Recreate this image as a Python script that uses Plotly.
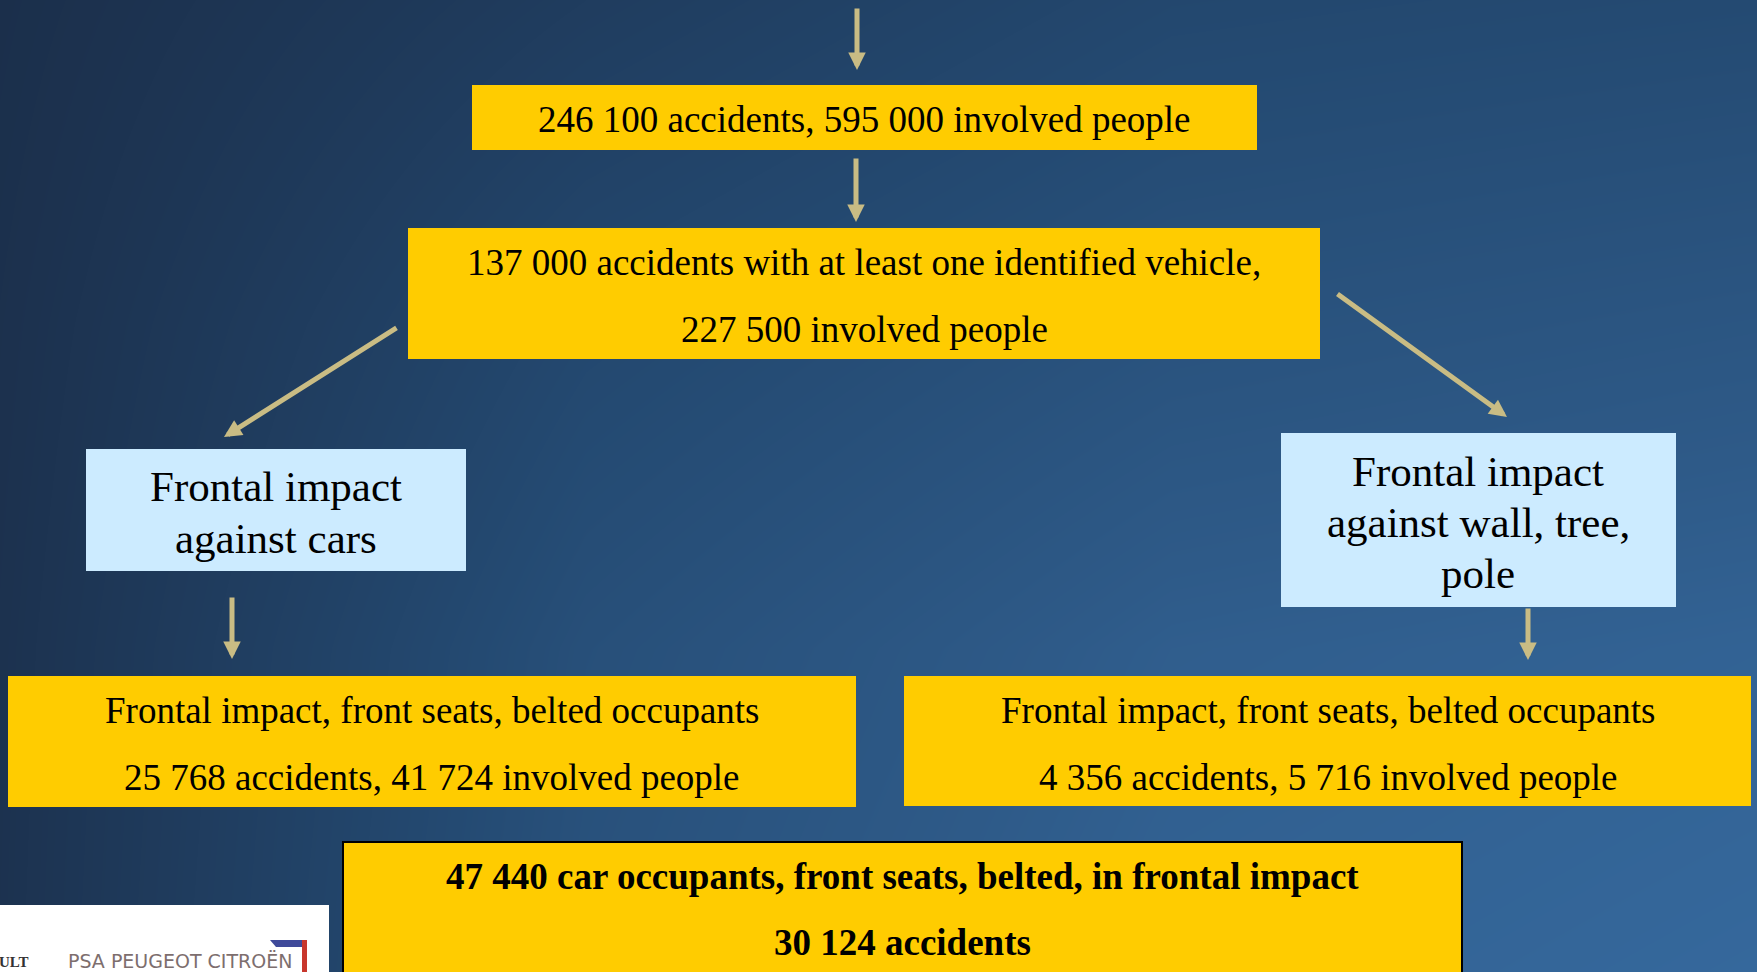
import plotly.graph_objects as go

# counts
accidents = ["246 100", "137 000", "25 768", "4 356", "30 124"]
people = ["595 000", "227 500", "41 724", "5 716", "47 440"]
impact_types = ["Frontal impact<br>against cars", "Frontal impact<br>against wall, tree,<br>pole"]

# background shading (0 = dark navy, 1 = light blue)
bg_x = [0, 586, 1171, 1757]
bg_y = [0, 324, 648, 972]
bg_z = [[0.00, 0.25, 0.45, 0.50],
        [0.03, 0.45, 0.65, 0.72],
        [0.05, 0.60, 0.85, 0.92],
        [0.06, 0.65, 0.92, 1.00]]

W, H = 1757, 972
yellow = "#FFCC00"
blue = "#CCEBFF"
arrow_col = "#C9BC84"
serif = "Liberation Serif, Times New Roman, serif"

fig = go.Figure()
fig.add_trace(go.Heatmap(x=bg_x, y=bg_y, z=bg_z, zsmooth="best", showscale=False,
                         hoverinfo="skip",
                         colorscale=[[0, "#1B2F4B"], [0.5, "#244A72"],
                                     [0.8, "#2E5A88"], [1, "#35689C"]]))

def box(x0, x1, y0, y1, color, line=None):
    fig.add_shape(type="rect", x0=x0, x1=x1, y0=y0, y1=y1, fillcolor=color,
                  line=line or dict(width=0), layer="above")

def label(x, y, text, size=37, bold=False):
    if bold:
        text = "<b>" + text + "</b>"
    fig.add_annotation(x=x, y=y, text=text, showarrow=False,
                       font=dict(family=serif, size=size, color="black"))

def arrow(x0, y0, x1, y1):
    fig.add_annotation(x=x1, y=y1, ax=x0, ay=y0, axref="x", ayref="y", xref="x", yref="y",
                       text="", showarrow=True, arrowhead=2, arrowsize=0.7,
                       arrowwidth=5, arrowcolor=arrow_col)

# top level boxes
box(472, 1257, 85, 150, yellow)
label(864, 119, accidents[0] + " accidents, " + people[0] + " involved people")
box(408, 1320, 228, 359, yellow)
label(864, 262, accidents[1] + " accidents with at least one identified vehicle,")
label(864, 329, people[1] + " involved people")

# impact type boxes
box(86, 466, 449, 571, blue)
for i, t in enumerate(impact_types[0].split("<br>")):
    label(276, 486 + i * 52, t, size=43)
box(1281, 1676, 433, 607, blue)
for i, t in enumerate(impact_types[1].split("<br>")):
    label(1478, 471 + i * 51, t, size=43)

# belted occupants boxes
box(8, 856, 676, 807, yellow)
label(432, 710, "Frontal impact, front seats, belted occupants")
label(432, 777, accidents[2] + " accidents, " + people[2] + " involved people")
box(904, 1751, 676, 806, yellow)
label(1328, 710, "Frontal impact, front seats, belted occupants")
label(1328, 777, accidents[3] + " accidents, " + people[3] + " involved people")

# total box
box(343, 1462, 842, 990, yellow, line=dict(color="black", width=2))
label(902, 876, people[4] + " car occupants, front seats, belted, in frontal impact", bold=True)
label(902, 942, accidents[4] + " accidents", bold=True)

# arrows
arrow(857, 7, 857, 70)
arrow(856, 157, 856, 222)
arrow(398, 327, 224, 437)
arrow(1336, 293, 1507, 417)
arrow(232, 596, 232, 659)
arrow(1528, 607, 1528, 660)

# logo strip
box(0, 329, 905, 980, "white")
fig.add_shape(type="path", path="M 270 940 L 307 940 L 302 947 L 276 947 Z",
              fillcolor="#3F4A9A", line=dict(width=0), layer="above")
box(302, 307, 940, 980, "#C8372D")
fig.add_annotation(x=66, y=961, text="PSA PEUGEOT CITROËN", showarrow=False, xanchor="left",
                   font=dict(family="DejaVu Sans, sans-serif", size=19, color="#7D6E6E"))
fig.add_annotation(x=0.5, y=962, text="<b>ULT</b>", showarrow=False, xanchor="left",
                   xshift=-4, font=dict(family=serif, size=15, color="#333333"))

fig.update_xaxes(range=[0, W], visible=False, fixedrange=True)
fig.update_yaxes(range=[H, 0], visible=False, fixedrange=True)
fig.update_layout(width=W, height=H, margin=dict(l=0, r=0, t=0, b=0),
                  paper_bgcolor="#1B2F4B", plot_bgcolor="#1B2F4B", showlegend=False)

fig.write_html("out.html", config={"displayModeBar": False},
               post_script="document.body.style.margin='0';")
